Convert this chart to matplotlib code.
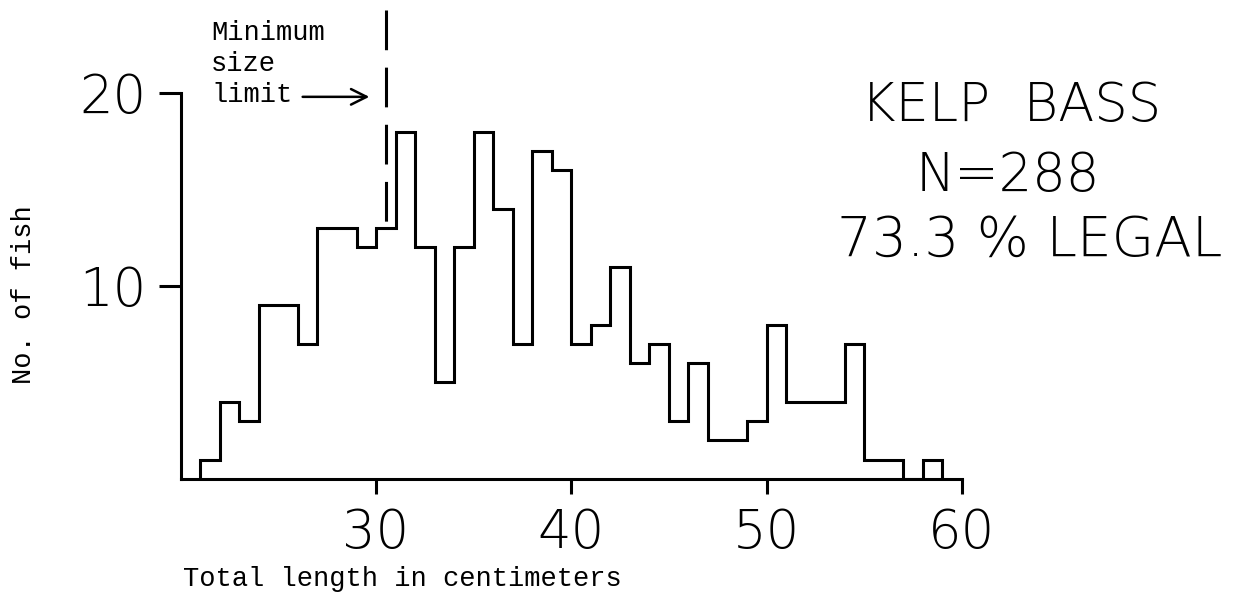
import matplotlib
matplotlib.use("Agg")
import matplotlib.pyplot as plt
import numpy as np

# kelp bass length-frequency, 1 cm bins starting at 21 cm
bin_start = 21
counts = [1, 4, 3, 9, 9, 7, 13, 13, 12, 13, 18, 12, 5, 12, 18, 14, 7, 17, 16,
          7, 8, 11, 6, 7, 3, 6, 2, 2, 3, 8, 4, 4, 4, 7, 1, 1, 0, 1]
x_ticks = [30, 40, 50, 60]
y_ticks = [10, 20]
size_limit = 30.5
title_lines = ["KELP  BASS", "N=288", "73.3 % LEGAL"]

edges = np.arange(bin_start, bin_start + len(counts) + 1)

num_font = ["DejaVu Sans"]
mono_font = ["Liberation Mono", "DejaVu Sans Mono"]

fig = plt.figure(figsize=(12.44, 6.01), dpi=100)
ax = fig.add_axes([0.1453, 0.2030, 0.6279, 0.6423])

ax.stairs(counts, edges, baseline=0, color="black", linewidth=2.2)

ax.set_xlim(20, 60)
ax.set_ylim(0, 20)
for s in ["top", "right"]:
    ax.spines[s].set_visible(False)
for s in ["left", "bottom"]:
    ax.spines[s].set_linewidth(2.2)

ax.set_xticks(x_ticks)
ax.set_yticks(y_ticks)
ax.tick_params(axis="x", direction="out", length=11, width=2.2, pad=9)
ax.tick_params(axis="y", direction="out", length=16, width=2.2, pad=9)
for lab in ax.get_xticklabels() + ax.get_yticklabels():
    lab.set_family(num_font)
    lab.set_fontweight("light")
    lab.set_fontsize(38)

# minimum size limit marker (drawn top-down so the dash pattern starts at the top)
ax.plot([size_limit, size_limit], [24.3, 13], color="black", linewidth=2.2,
        linestyle=(0, (13, 5.7)), clip_on=False)
ax.annotate("", xy=(29.8, 19.8), xytext=(26.1, 19.8),
            arrowprops=dict(arrowstyle="->", color="black", lw=1.8,
                            mutation_scale=28),
            annotation_clip=False)
fig.text(211 / 1244, 1 - 20 / 601, "Minimum\nsize\nlimit", family=mono_font,
         fontsize=19.5, va="top", ha="left", linespacing=1.25)

fig.text(183 / 1244, 1 - 586 / 601, "Total length in centimeters",
         family=mono_font, fontsize=19.5, ha="left", va="baseline")
fig.text(24 / 1244, 1 - 295 / 601, "No. of fish", family=mono_font,
         fontsize=19.5, rotation=90, ha="center", va="center")

centers = [(1011, 106), (1008, 176), (1030, 241)]
sizes = [38, 38, 39.5]
for line, (cx, cy), fs in zip(title_lines, centers, sizes):
    fig.text(cx / 1244, 1 - cy / 601, line, family=num_font, fontweight="light",
             fontsize=fs, ha="center", va="center")

fig.savefig("out.png", dpi=100)
